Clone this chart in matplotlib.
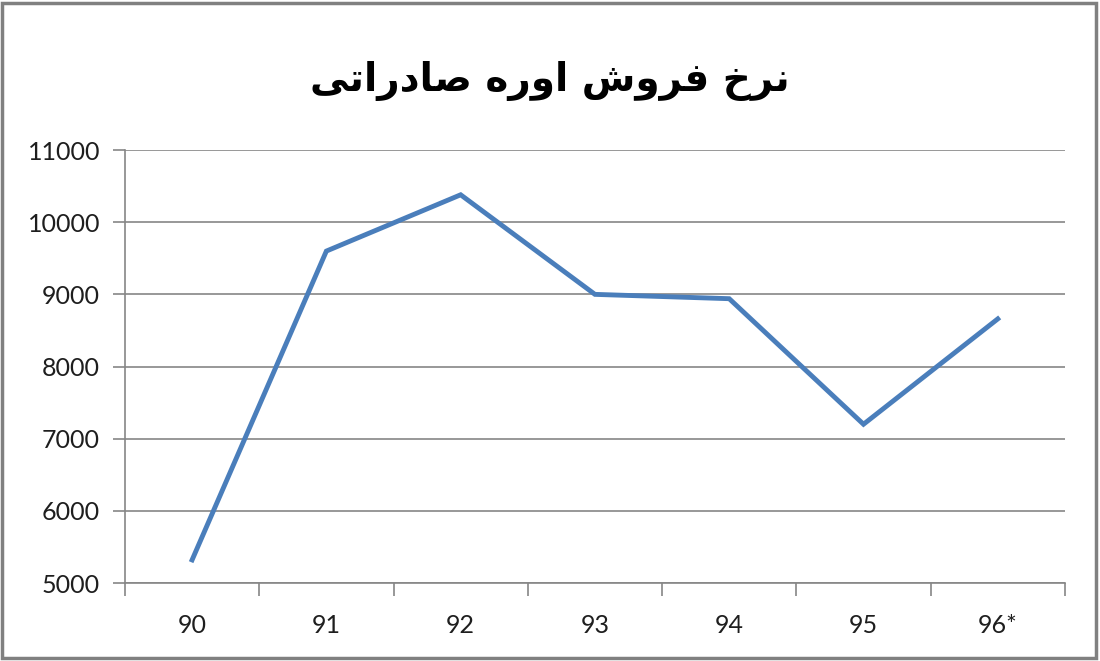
import matplotlib
matplotlib.use("Agg")
import matplotlib.pyplot as plt
from matplotlib.patches import Rectangle

categories = ["90", "91", "92", "93", "94", "95", "96*"]
values = [5320, 9600, 10380, 9000, 8940, 7200, 8660]
yticks = [5000, 6000, 7000, 8000, 9000, 10000, 11000]
# Persian title, pre-shaped (presentation forms) and in visual order
title_logical = "نرخ فروش اوره صادراتی"
title_visual = "\uFEF0\uFE97\uFE8D\uFEAD\uFEA9\uFE8E\uFEBB \uFEE9\uFEAD\uFEED\uFE8D \uFEB5\uFEED\uFEAE\uFED3 \uFEA5\uFEAE\uFEE7"

fig = plt.figure(figsize=(11, 6.61), dpi=100)
fig.patch.set_facecolor("white")
fig.add_artist(Rectangle((0.002, 0.004), 0.994, 0.992, transform=fig.transFigure,
                         fill=False, edgecolor="#808080", linewidth=2.5))

ax = fig.add_axes([0.1136, 0.118, 0.8545, 0.655])
x = list(range(len(categories)))
ax.plot(x, values, color="#4a7ebb", linewidth=3.5, solid_joinstyle="miter")

tick_font = dict(fontsize=18, color="#1e1e1e", family=["Lato", "DejaVu Sans"])
ax.set_xlim(-0.5, len(categories) - 0.5)
ax.set_ylim(5000, 11000)
ax.set_yticks(yticks)
ax.set_yticklabels([str(v) for v in yticks], **tick_font)
ax.set_xticks(x)
ax.set_xticklabels(categories, **tick_font)
ax.tick_params(axis="x", length=0, pad=22)
ax.set_xticks([i - 0.5 for i in range(len(categories) + 1)], minor=True)
ax.tick_params(axis="x", which="minor", length=9, color="#868686", width=1.2)
ax.tick_params(axis="y", length=9, color="#868686", width=1.2, pad=9)

ax.grid(axis="y", color="#868686", linewidth=1.2)
ax.set_axisbelow(True)
for s in ["top", "right"]:
    ax.spines[s].set_visible(False)
for s in ["left", "bottom"]:
    ax.spines[s].set_color("#868686")
    ax.spines[s].set_linewidth(1.2)

fig.text(0.5, 0.878, title_visual, ha="center", va="center", fontsize=28,
         fontweight="bold", family=["DejaVu Sans"])

fig.savefig("out.png", dpi=100, facecolor="white")
